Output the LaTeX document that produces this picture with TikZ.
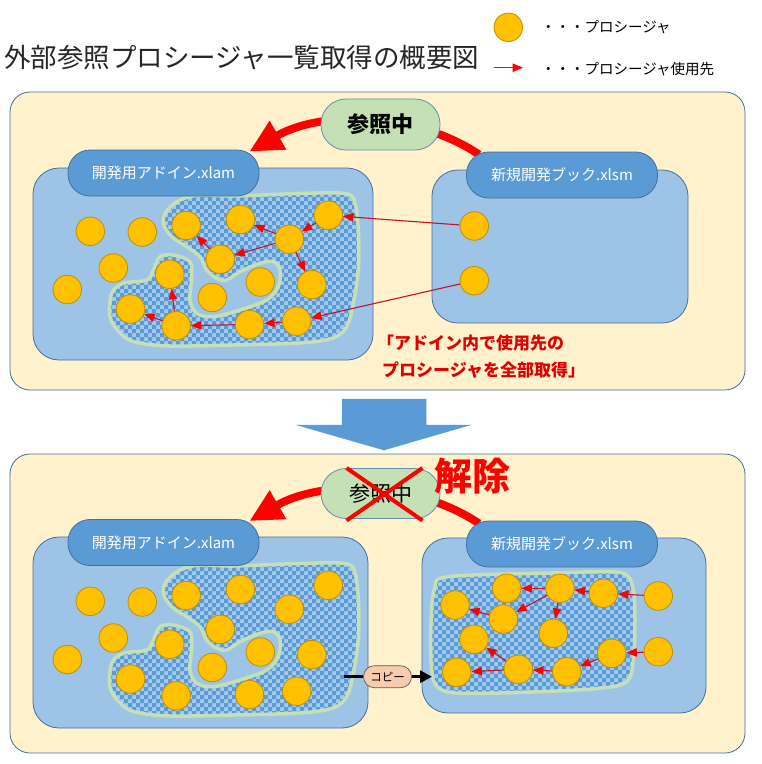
\documentclass[tikz,border=0pt]{standalone}
\usepackage{fontspec}
\newfontfamily\jp{Noto Sans CJK JP}
\usetikzlibrary{arrows.meta,calc}
\pgfdeclarelayer{bg}
\pgfdeclarelayer{mid}
\pgfsetlayers{bg,mid,main}
\definecolor{panelfill}{HTML}{FFF2CC}
\definecolor{edgec}{HTML}{41719C}
\definecolor{contfill}{HTML}{9DC3E6}
\definecolor{badgefill}{HTML}{5B9BD5}
\definecolor{procfill}{HTML}{FFC000}
\definecolor{procedge}{HTML}{BF9000}
\definecolor{greenfill}{HTML}{C5E0B4}
\definecolor{chkdark}{HTML}{5B9BD5}
\definecolor{chklight}{HTML}{A6CAEB}
\definecolor{arrline}{HTML}{C8102E}
\definecolor{copyfill}{HTML}{F8CBAD}
\definecolor{notered}{HTML}{E00000}

% checkerboard: #1,#2 origin, #3,#4 counts
\newcommand\checkfill[4]{%
  \fill[chkdark] \foreach \i in {0,...,#3}{\foreach \j in {0,...,#4}{
    ({#1+8*\i},{#2+8*\j}) rectangle +(4,4) ({#1+8*\i+4},{#2+8*\j+4}) rectangle +(4,4)}};}

\newcommand\leftblobpath[1]{%
  \path[#1] plot[smooth cycle, tension=0.55] coordinates {
    (180,50) (200,45) (233,46) (300,43.5) (345,43.5) (355,53) (358.5,83) (358.5,117)
    (354,150) (347,176) (333,188) (300,193) (233,195) (170,196) (135,192) (120,183)
    (110,167) (111.7,143.3) (123.3,133.3) (146.7,130) (153.3,120) (160,106.7) (173.3,105)
    (190,111.7) (191.7,126.7) (190,150) (196.7,163.3) (213.3,166.7) (240,160) (266.7,150)
    (278.3,136.7) (280,120) (273.3,111.7) (260,113.3) (240,121.7) (226.7,130) (216.7,128.3)
    (206.7,120) (200,106.7) (186.7,96.7) (171.7,86.7) (163.3,73.3) (166.7,61)};}

\newcommand\drawleftblob{%
  \begin{scope}
    \leftblobpath{clip}
    \fill[chklight] (100,35) rectangle (372,205);
    \checkfill{100}{35}{34}{21}
  \end{scope}
  \leftblobpath{draw=greenfill, line width=3.5pt}}

\newcommand\rightblobpath[1]{%
  \path[#1] plot[smooth cycle, tension=0.55] coordinates {
    (440,578.3) (473.3,575) (540,573.3) (606.7,571.7) (626.7,575) (633.3,590) (635,620)
    (633.3,660) (626.7,681.7) (600,688.3) (540,691.7) (480,693.3) (446.7,691.7) (433.3,680)
    (430.7,646.7) (431.7,606.7) (435,586.7)};}

\newcommand\leftprocs[1]{%
  \node[proc] (#1A) at (90.3,81.3) {};
  \node[proc] (#1B) at (142.3,82) {};
  \node[proc] (#1C) at (113.3,118) {};
  \node[proc] (#1D) at (67.3,139.5) {};
  \node[proc] (#1E) at (186.2,75.5) {};
  \node[proc] (#1F) at (240.5,69.5) {};
  \node[proc] (#1G) at (328.3,65.3) {};
  \node[proc] (#1H) at (289.3,89.2) {};
  \node[proc] (#1I) at (220.2,109.3) {};
  \node[proc] (#1J) at (169.7,124.3) {};
  \node[proc] (#1K) at (260.3,132) {};
  \node[proc] (#1L) at (212.3,147.5) {};
  \node[proc] (#1M) at (311.8,134.6) {};
  \node[proc] (#1N) at (130.5,159) {};
  \node[proc] (#1O) at (176.2,175.8) {};
  \node[proc] (#1P) at (249.5,174.5) {};
  \node[proc] (#1Q) at (296.7,171.2) {};}

\begin{document}
\begin{tikzpicture}[x=1pt,y=-1pt,
  panel/.style={draw=edgec, line width=0.8pt, fill=panelfill, rounded corners=20pt},
  cont/.style={draw=edgec, line width=0.8pt, fill=contfill, rounded corners=26pt},
  badge/.style={draw=edgec, line width=0.8pt, fill=badgefill, rounded corners=22pt,
    minimum width=191pt, minimum height=46pt, inner sep=0pt, text=white,
    font=\jp\fontsize{15}{16}\selectfont},
  refbadge/.style={draw=edgec!80, line width=0.8pt, fill=greenfill, rounded corners=25pt,
    minimum width=119pt, minimum height=51pt, inner sep=0pt},
  proc/.style={circle, draw=procedge, line width=0.8pt, fill=procfill, minimum size=28.5pt, inner sep=0pt},
  thinarr/.style={draw=arrline, line width=1.1pt, -{Triangle[length=10.5pt,width=8.5pt,color=red]}},
  bigarr/.style={draw=red, line width=8pt, -{Triangle[length=33pt,width=31pt]}},
  titletext/.style={font=\jp\fontsize{26.5}{30}\selectfont, text=black!85, inner sep=0pt},
  legtext/.style={font=\jp\fontsize{14.5}{16}\selectfont, inner sep=0pt},
  notetext/.style={font=\jp\bfseries\fontsize{17}{20}\selectfont, text=notered, inner sep=0pt},
  copypill/.style={draw=gray!70!black, line width=0.7pt, fill=copyfill, rounded corners=11pt,
    minimum width=48pt, minimum height=22pt, inner sep=0pt, font=\jp\fontsize{11.5}{12}\selectfont},
  copyline/.style={draw=black, line width=3.5pt},
  copyarr/.style={draw=black, line width=3.5pt, -{Triangle[length=12pt,width=12pt]}},
  crossline/.style={draw=red, line width=4pt}]
\useasboundingbox (0,0) rectangle (762,764);
\begin{pgfonlayer}{bg}
  \fill[white] (0,0) rectangle (762,764);
  % top panel
  \draw[panel] (10,92) rectangle (745,390);
  \draw[cont] (33,168) rectangle (373,360);
  \draw[cont] (432,170) rectangle (688,323);
  % down arrow
  \draw[fill=badgefill, draw=badgefill, line width=0.5pt]
    (342,399) -- (426,399) -- (426,425) -- (470,425) -- (384,450) -- (297,425) -- (342,425) -- cycle;
  % bottom panel
  \draw[panel] (10,454) rectangle (745,753);
  \draw[cont] (33,537) rectangle (368,728);
  \draw[cont] (422,538) rectangle (706,713);
\end{pgfonlayer}

% title and legend
\node[titletext, anchor=west] (title) at (4,58) {外部参照プロシージャ一覧取得の概要図};
\node[proc] (legc) at (508.3,27.3) {};
\node[legtext, anchor=west] (leg1) at (541,26.7) {・・・プロシージャ};
\coordinate (la1) at (494,67.7);
\coordinate (la2) at (523,67.7);
\draw[thinarr] (la1) -- (la2);
\node[legtext, anchor=west] (leg2) at (541,69) {・・・プロシージャ使用先};

% ===== top =====
\begin{scope}[shift={(0,150)}]
  \drawleftblob
  \leftprocs{t}
\end{scope}
\node[proc] (tRa) at (474.3,226) {};
\node[proc] (tRb) at (474.3,280.7) {};

\node[badge] (taddin) at (163.5,173) {開発用アドイン.xlam};
\node[badge] (tbook) at (562,175) {新規開発ブック.xlsm};
\coordinate (tarcS) at ($(tbook.north west)+(13,3)$);
\coordinate (tarcE) at ($(taddin.north east)+(-10,2)$);
\begin{pgfonlayer}{mid}
  \draw[bigarr] (tarcS) .. controls +(-62,-42) and +(73,-42) .. (tarcE);
\end{pgfonlayer}
\node[refbadge, font=\jp\bfseries\fontsize{22}{24}\selectfont] (tref) at (380.5,124.5) {参照中};

\draw[thinarr] (tRa) -- (tG);
\draw[thinarr] (tG) -- (tH);
\draw[thinarr] (tH) -- (tF);
\draw[thinarr] (tH) -- (tI);
\draw[thinarr] (tH) -- (tM);
\draw[thinarr] (tI) -- (tE);
\draw[thinarr] (tRb) -- (tQ);
\draw[thinarr] (tQ) -- (tP);
\draw[thinarr] (tP) -- (tO);
\draw[thinarr] (tO) -- (tN);
\draw[thinarr] (tO) -- (tJ);

\node[notetext, anchor=west] (note1) at (377,343) {「アドイン内で使用先の};
\node[notetext, anchor=west] (note2) at (382,370) {プロシージャを全部取得」};

% ===== bottom =====
\begin{scope}[shift={(0,520)}]
  \drawleftblob
  \leftprocs{b}
\end{scope}
\begin{scope}
  \rightblobpath{clip}
  \fill[chklight] (426,566) rectangle (640,698);
  \checkfill{426}{566}{27}{17}
\end{scope}
\rightblobpath{draw=greenfill, line width=3.5pt}
\node[proc] (R1) at (506.7,588.3) {};
\node[proc] (R2) at (560,588.3) {};
\node[proc] (R3) at (603.3,593.3) {};
\node[proc] (R4) at (658.3,596) {};
\node[proc] (R5) at (455,605) {};
\node[proc] (R6) at (503.3,619) {};
\node[proc] (R7) at (553.3,633.3) {};
\node[proc] (R8) at (474,639.3) {};
\node[proc] (R9) at (611.7,653.3) {};
\node[proc] (R10) at (658.3,651.7) {};
\node[proc] (R11) at (456.7,672.3) {};
\node[proc] (R12) at (518.3,669.3) {};
\node[proc] (R13) at (566.7,671.7) {};

\node[badge] (baddin) at (163.5,542.5) {開発用アドイン.xlam};
\node[badge] (bbook) at (562,544) {新規開発ブック.xlsm};
\coordinate (barcS) at ($(bbook.north west)+(13,3)$);
\coordinate (barcE) at ($(baddin.north east)+(-10,2)$);
\begin{pgfonlayer}{mid}
  \draw[bigarr] (barcS) .. controls +(-62,-42) and +(73,-42) .. (barcE);
\end{pgfonlayer}
\node[refbadge, minimum height=50pt, font=\jp\fontsize{21}{23}\selectfont] (bref) at (380.5,493.5) {参照中};
\coordinate (x1) at ($(bref.center)+(-34,-25.5)$);
\coordinate (x2) at ($(bref.center)+(42,27)$);
\coordinate (x3) at ($(bref.center)+(42,-25.5)$);
\coordinate (x4) at ($(bref.center)+(-34,27)$);
\draw[crossline] (x1) -- (x2);
\draw[crossline] (x3) -- (x4);
\node[font=\jp\bfseries\fontsize{38}{40}\selectfont, text=red, inner sep=0pt] (kaijo) at (472.5,476) {解除};

\draw[thinarr] (R4) -- (R3);
\draw[thinarr] (R3) -- (R2);
\draw[thinarr] (R2) -- (R1);
\draw[thinarr] (R2) -- (R6);
\draw[thinarr] (R2) -- (R7);
\draw[thinarr] (R6) -- (R5);
\draw[thinarr] (R12) -- (R8);
\draw[thinarr] (R10) -- (R9);
\draw[thinarr] (R9) -- (R13);
\draw[thinarr] (R13) -- (R12);
\draw[thinarr] (R12) -- (R11);

% copy
\node[copypill] (copy) at (387.5,676.7) {コピー};
\coordinate (cpS) at (344,676.7);
\coordinate (cpE) at (432,676.7);
\draw[copyline] (cpS) -- (copy.west);
\draw[copyarr] (copy.east) -- (cpE);
\end{tikzpicture}
\end{document}
